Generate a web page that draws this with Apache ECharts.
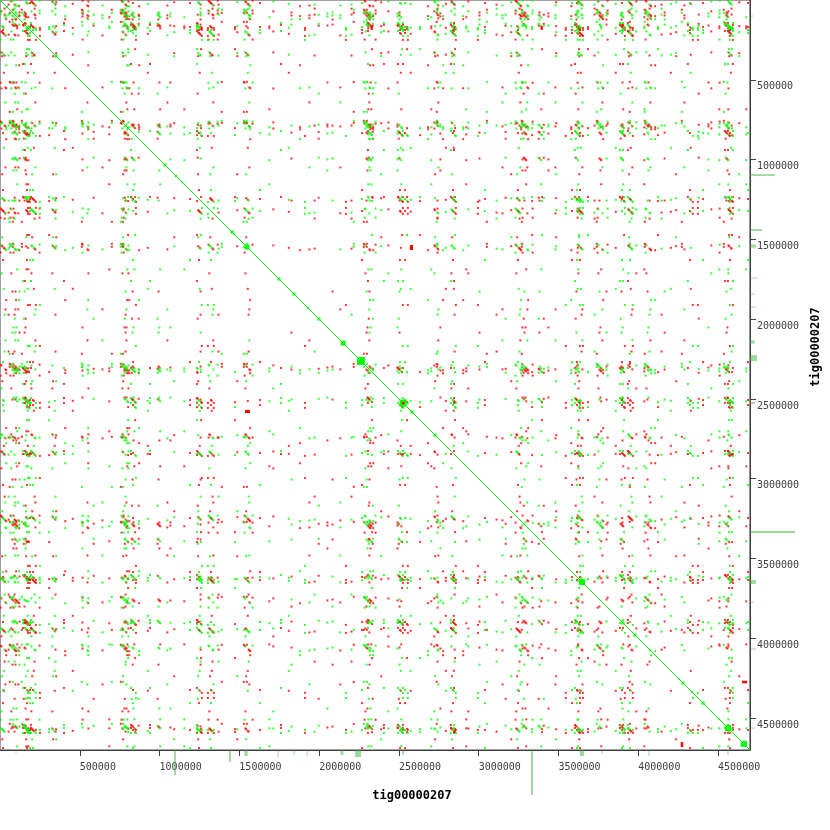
<!DOCTYPE html>
<html lang="en">
<head>
    <meta charset="UTF-8">
    <title>tig00000207 self dot plot</title>
</head>
<style>
    html, body { margin: 0; padding: 0; background: #fff; }
    .box { width: 830px; height: 830px; }
</style>
<body>
    <div class="box" id="box"></div>
    <script src="https://cdn.jsdelivr.net/npm/echarts@6/dist/echarts.min.js"></script>
    <script>
        // contig length and ticks (bp)
        var contigName = 'tig00000207';
        var genomeLen = 4700000;
        var tickStep = 500000;

        // repeat-rich loci (kb): the dense bands, same on both axes
        var hubKb = [19, 81, 100, 157, 169, 207, 777, 790, 834, 1247,
            1322, 1548, 2300, 2319, 2507, 2839, 3246, 3290, 3616, 3635,
            3760, 3898, 3948, 4061, 4556, 4575,
            338, 533, 996, 2538, 2732, 2757, 3384, 4324];
        // repeat families carried by each band: upper case = forward copy, lower case = reverse copy
        var hubFam = ['AbCDeFgH', 'dEFgHiJk', 'FghIJkLm', 'IjKlmNOp', 'lMNopAbC', 'OpaBcDEf', 'CdEfGHij', 'gHIjKLmN', 'JkLMnOpa', 'MnoPAbCd',
            'PaBcDEfG', 'BcdEFgHi', 'EfGhIjKL', 'hIJkLMno', 'KLmNOpAb', 'nOpABcdE', 'AbcDEfGh', 'FgHIjKlM', 'kLMnOPab', 'PAbCdEFg',
            'EfgHIjKl', 'JkLmNOPa', 'oPaBCdeF', 'DEfGhIJk', 'IjKLmNoP', 'NopAbCDe',
            'bCdE', 'fGhI', 'JkLm', 'nOpA', 'CDef', 'gHij', 'KLmn', 'OpAB'];

        // single-copy loci (kb), one family each
        var minorKb = [44, 125, 188, 232, 263, 295, 357, 389, 414, 451,
            514, 564, 595, 627, 677, 721, 815, 852, 877, 921,
            953, 1034, 1065, 1097, 1147, 1191, 1222, 1260, 1285, 1360,
            1379, 1410, 1460, 1492, 1567, 1598, 1629, 1680, 1723, 1774,
            1805, 1830, 1861, 1893, 1924, 1962, 2005, 2049, 2087, 2118,
            2150, 2193, 2237, 2269, 2344, 2369, 2394, 2419, 2444, 2488,
            2569, 2620, 2663, 2695, 2789, 2858, 2883, 2914, 2945, 2977,
            3008, 3039, 3071, 3102, 3134, 3177, 3209, 3271, 3322, 3353,
            3416, 3434, 3466, 3491, 3528, 3560, 3585, 3672, 3716, 3804,
            3823, 3854, 3917, 3967, 3998, 4030, 4086, 4111, 4136, 4168,
            4199, 4243, 4274, 4293, 4356, 4387, 4406, 4437, 4468, 4500,
            4525, 4606, 4638, 4669, 4688];
        var minorFam = ('dKaPgNcHoBjEmFlI' + 'EhMbOfJcLaNkPdGi' + 'nCiGaLeObKhPfDmJ' + 'kFpDiAmGcOeJbNhL' +
            'BoHlEpKaIdFmCjNg' + 'MjFcPhAnDkGbOiEl' + 'hNdKbCfIpMaJeLgO' + 'cLa').split('');

        // where each family copy sits inside a band (kb)
        var famShiftKb = { A: 0, B: 5, C: -5, D: 10, E: -10, F: 15, G: -15, H: 20,
            I: -20, J: 3, K: -3, L: 8, M: -8, N: 13, O: -13, P: 18 };

        // tandem blocks on the diagonal: [centre kb, size kb]
        var diagBlocks = [[44, 12], [351, 19], [1034, 19], [1103, 12], [1141, 12],
            [1454, 19], [1466, 12], [1548, 31], [1748, 19], [1842, 19],
            [1930, 12], [1999, 19], [2150, 31], [2262, 50], [2526, 44],
            [2582, 19], [2726, 19], [3647, 38], [3904, 19], [3979, 19],
            [4074, 12], [4255, 12], [4280, 19], [4337, 12], [4406, 19],
            [4506, 12], [4562, 38], [4662, 38]];
        // inverted blocks: [x kb, y kb, width kb, height kb]
        var invBlocks = [[2579, 1551, 19, 31], [1551, 2579, 31, 19],
            [4274, 4666, 16, 31], [4666, 4274, 31, 16], [2526, 2526, 16, 16]];
        // coverage marks outside the axes: [position kb, thickness kb, length kb]
        var marginBars = [[100, 6, 19], [1097, 12, 157], [1134, 6, 12], [1441, 12, 75],
            [1542, 19, 38], [1742, 6, 50], [1842, 6, 31], [1924, 6, 38],
            [2143, 19, 31], [2244, 38, 44], [2526, 12, 31], [3334, 12, 282],
            [3647, 25, 38], [3773, 6, 25], [4067, 6, 38], [4562, 6, 31]];

        // build the hits: every pair of copies of the same family
        var fwdHits = [];
        var revHits = [];
        var famCopies = {};
        function addLoci(kbs, fams, base) {
            kbs.forEach(function (kb, i) {
                fams[i].split('').forEach(function (ch) {
                    var f = ch.toUpperCase();
                    if (!famCopies[f]) famCopies[f] = [];
                    famCopies[f].push({ i: base + i, pos: (kb + famShiftKb[f]) * 1000, fwd: ch === f });
                });
            });
        }
        addLoci(hubKb, hubFam, 0);
        addLoci(minorKb, minorFam, 1000);
        Object.keys(famCopies).forEach(function (f) {
            var list = famCopies[f];
            list.forEach(function (a) {
                list.forEach(function (b) {
                    if (a.i === b.i) return;
                    if (a.fwd === b.fwd) fwdHits.push([a.pos, b.pos]);
                    else revHits.push([a.pos, b.pos]);
                });
            });
        });

        function kbRows(rows) {
            return rows.map(function (r) { return r.map(function (v) { return v * 1000; }); });
        }

        function renderBlock(params, api) {
            var x = api.value(0), y = api.value(1), w = api.value(2), h = api.value(3);
            var p0 = api.coord([x - w / 2, y - h / 2]);
            var p1 = api.coord([x + w / 2, y + h / 2]);
            return {
                type: 'rect',
                shape: {
                    x: Math.min(p0[0], p1[0]), y: Math.min(p0[1], p1[1]),
                    width: Math.max(1, Math.abs(p1[0] - p0[0])), height: Math.max(1, Math.abs(p1[1] - p0[1]))
                },
                style: { fill: api.visual('color') }
            };
        }

        function renderMargin(params, api) {
            var pos = api.value(0), t = api.value(1), len = api.value(2);
            var a = api.coord([pos - t / 2, genomeLen]);
            var b = api.coord([pos + t / 2, genomeLen + len]);
            var c = api.coord([genomeLen, pos - t / 2]);
            var d = api.coord([genomeLen + len, pos + t / 2]);
            var fill = 'rgba(40,170,40,0.45)';
            return {
                type: 'group',
                children: [
                    { type: 'rect', shape: { x: a[0], y: a[1], width: Math.max(1, b[0] - a[0]), height: b[1] - a[1] }, style: { fill: fill } },
                    { type: 'rect', shape: { x: c[0], y: c[1], width: d[0] - c[0], height: Math.max(1, d[1] - c[1]) }, style: { fill: fill } }
                ]
            };
        }

        var tickFont = { color: '#404040', fontSize: 10, fontFamily: 'DejaVu Sans Mono' };
        var nameFont = { color: '#000', fontSize: 12, fontWeight: 'bold', fontFamily: 'DejaVu Sans Mono' };

        var myChart = echarts.init(document.getElementById('box'));
        var option = {
            animation: false,
            backgroundColor: '#fff',
            grid: {
                left: 0, top: 0, right: 80, bottom: 80,
                show: true, borderColor: '#404040', borderWidth: 1
            },
            xAxis: {
                type: 'value',
                position: 'bottom',
                min: 0, max: genomeLen, interval: tickStep,
                name: contigName,
                nameLocation: 'middle',
                nameGap: 40,
                nameTextStyle: Object.assign({ padding: [0, 0, 0, 74] }, nameFont),
                axisLine: { onZero: false, lineStyle: { color: '#404040', width: 1 } },
                axisTick: { length: 6, lineStyle: { color: '#404040' } },
                axisLabel: Object.assign({
                    align: 'left', margin: 12, showMinLabel: false, showMaxLabel: false,
                    formatter: function (v) { return String(v); }
                }, tickFont),
                splitLine: { show: false }
            },
            yAxis: {
                type: 'value',
                position: 'right',
                inverse: true,
                min: 0, max: genomeLen, interval: tickStep,
                name: contigName,
                nameLocation: 'middle',
                nameRotate: 90,
                nameGap: 58,
                nameTextStyle: Object.assign({ padding: [0, 0, 0, 56] }, nameFont),
                axisLine: { onZero: false, lineStyle: { color: '#404040', width: 1 } },
                axisTick: { length: 6, lineStyle: { color: '#404040' } },
                axisLabel: Object.assign({
                    verticalAlign: 'top', margin: 7, padding: [2, 0, 0, 0], showMinLabel: false, showMaxLabel: false,
                    formatter: function (v) { return String(v); }
                }, tickFont),
                splitLine: { show: false }
            },
            series: [
                {
                    name: 'margin', type: 'custom', clip: false, silent: true,
                    renderItem: renderMargin, data: kbRows(marginBars), z: 1
                },
                {
                    name: 'reverse', type: 'scatter', symbol: 'rect', symbolSize: 2, silent: true,
                    progressive: 0,
                    itemStyle: { color: '#ff0000' }, data: revHits, z: 2
                },
                {
                    name: 'forward', type: 'scatter', symbol: 'rect', symbolSize: 2, silent: true,
                    progressive: 0,
                    itemStyle: { color: '#00ff00' }, data: fwdHits, z: 3
                },
                {
                    name: 'diagonal', type: 'line', symbol: 'none', silent: true,
                    lineStyle: { color: '#00e600', width: 1 },
                    data: [[0, 0], [genomeLen, genomeLen]], z: 4
                },
                {
                    name: 'blocks', type: 'custom', silent: true,
                    itemStyle: { color: '#00ff00' },
                    renderItem: renderBlock,
                    data: kbRows(diagBlocks).map(function (b) { return [b[0], b[0], b[1], b[1]]; }), z: 5
                },
                {
                    name: 'inverted', type: 'custom', silent: true,
                    itemStyle: { color: '#ff0000' },
                    renderItem: renderBlock, data: kbRows(invBlocks), z: 6
                }
            ]
        };
        myChart.setOption(option);

        window.addEventListener('resize', function () {
            myChart.resize();
        });
    </script>
</body>
</html>
